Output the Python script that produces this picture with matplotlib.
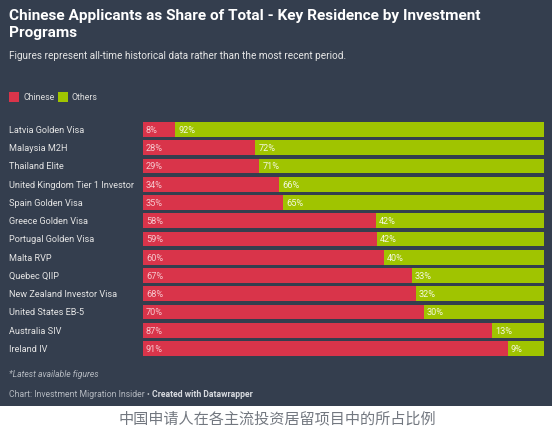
import matplotlib
matplotlib.use("Agg")
import matplotlib.pyplot as plt
import matplotlib.transforms as mtransforms
from matplotlib.patches import Rectangle

# data
programs = ["Latvia Golden Visa", "Malaysia M2H", "Thailand Elite",
            "United Kingdom Tier 1 Investor", "Spain Golden Visa",
            "Greece Golden Visa", "Portugal Golden Visa", "Malta RVP",
            "Quebec QIIP", "New Zealand Investor Visa", "United States EB-5",
            "Australia SIV", "Ireland IV"]
chinese = [8, 28, 29, 34, 35, 58, 59, 60, 67, 68, 70, 87, 91]
others = [92, 72, 71, 66, 65, 42, 42, 40, 33, 32, 30, 13, 9]

W, H = 554, 427
BG = "#343e4e"
RED = "#d9344a"
GREEN = "#a0c400"

plt.rcParams['font.family'] = ['Roboto', 'DejaVu Sans']

fig = plt.figure(figsize=(W / 100, H / 100), dpi=100)
fig.patch.set_facecolor("white")

def fx(px):
    return px / W

def fy(py):
    return 1 - py / H

# dark panel
fig.patches.append(Rectangle((0, fy(407)), fx(552), 407 / H, transform=fig.transFigure,
                             facecolor=BG, edgecolor="none", zorder=0))

# title / subtitle
fig.text(fx(9), fy(16), "Chinese Applicants as Share of Total - Key Residence by Investment",
         color="white", fontsize=11.1, fontweight="bold", va="center", ha="left")
fig.text(fx(9), fy(33), "Programs", color="white", fontsize=11.1, fontweight="bold",
         va="center", ha="left")
fig.text(fx(9), fy(56), "Figures represent all-time historical data rather than the most recent period.",
         color="#e6e6e6", fontsize=7.2, va="center", ha="left")

# legend
for x0, col, lab in [(9, RED, "Chinese"), (58, GREEN, "Others")]:
    fig.patches.append(Rectangle((fx(x0), fy(103)), fx(10), 10 / H, transform=fig.transFigure,
                                 facecolor=col, edgecolor="none", zorder=1))
    fig.text(fx(x0 + 14), fy(98), lab, color="#dddddd", fontsize=6.3, va="center", ha="left")

# bars
n = len(programs)
pitch = 18.25
top = 130.5 - pitch / 2
ax = fig.add_axes([fx(143), fy(top + n * pitch), fx(544 - 143), n * pitch / H])
ax.set_facecolor("none")
ax.set_zorder(3)

ys = list(range(n))
totals = [c + o for c, o in zip(chinese, others)]
red_w = [c / t * 100 for c, t in zip(chinese, totals)]
green_w = [o / t * 100 for o, t in zip(others, totals)]

ax.barh(ys, red_w, height=0.82, color=RED, edgecolor="none")
ax.barh(ys, green_w, left=red_w, height=0.82, color=GREEN, edgecolor="none")
ax.set_xlim(0, 100)
ax.set_ylim(n - 0.5, -0.5)
ax.axis("off")

lab_tr = mtransforms.blended_transform_factory(fig.transFigure, ax.transData)
for i, name in enumerate(programs):
    ax.text(fx(9), i, name, transform=lab_tr, color="#e4e4e4", fontsize=6.6,
            va="center", ha="left", clip_on=False)
    ax.annotate(f"{chinese[i]}%", (0, i), xytext=(3, 0), textcoords="offset pixels",
                color="#f6c9cf", fontsize=6.6, va="center", ha="left")
    ax.annotate(f"{others[i]}%", (red_w[i], i), xytext=(3, 0), textcoords="offset pixels",
                color="#f4f8e0", fontsize=6.6, va="center", ha="left")

# footer
fig.text(fx(9), fy(375), "*Latest available figures", color="#b4b9c0", fontsize=6.2,
         fontstyle="italic", va="center", ha="left")
t1 = fig.text(fx(9), fy(395), "Chart: Investment Migration Insider \u2022 ", color="#b4b9c0",
              fontsize=6.2, va="center", ha="left")
fig.canvas.draw()
bb = t1.get_window_extent()
fig.text(bb.x1 / W, fy(395), "Created with Datawrapper", color="#d8dbe0", fontsize=6.2,
         fontweight="bold", va="center", ha="left")

# caption under the panel
fig.text(0.5, fy(419), "中国申请人在各主流投资居留项目中的所占比例", color="#737880",
         fontsize=10.9, va="center", ha="center", family=['Noto Sans CJK SC', 'DejaVu Sans'])

fig.savefig("out.png", dpi=100, facecolor=fig.get_facecolor())
